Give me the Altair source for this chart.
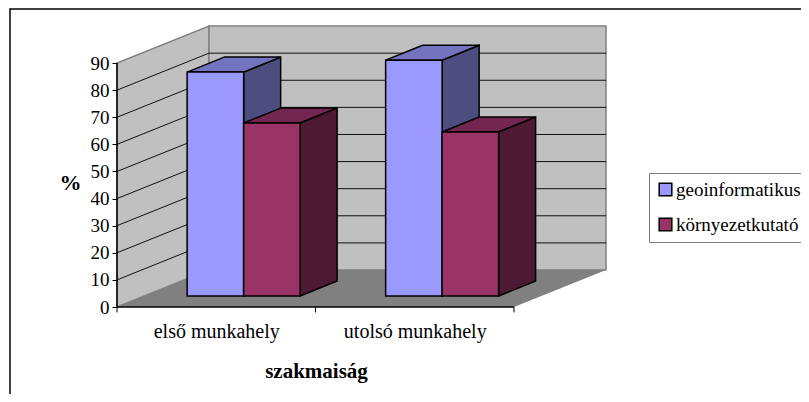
import altair as alt
import pandas as pd

categories = ["első munkahely", "utolsó munkahely"]
series = ["geoinformatikus", "környezetkutató"]
values = {"geoinformatikus": [82.6, 87.0], "környezetkutató": [63.8, 60.5]}
colors = ["#9999FF", "#993366"]
top_colors = {"geoinformatikus": "#7373BF", "környezetkutató": "#732650"}
side_colors = {"geoinformatikus": "#4D4D80", "környezetkutató": "#4D1933"}
y_ticks = list(range(0, 100, 10))

# oblique 3D layout, expressed in data units
DX, DY = 0.4635, 13.65          # full depth of the box
BDX, BDY = 0.1864, 5.53         # depth of a bar
FDX, FDY = 0.138, 4.06          # gap from the front plane to the bars
BW = 0.2846                     # bar width
N = len(categories)
XMAX, YMAX = 2.4585, 103.3

fronts, sides, tops = [], [], []
for c, cat in enumerate(categories):
    for s, name in enumerate(series):
        v = values[name][c]
        x0 = c + 0.5 - BW + s * BW + FDX
        x1 = x0 + BW
        y0 = FDY
        y1 = FDY + v
        pid = f"{c}-{s}"
        fronts.append(dict(series=name, x=x0, x2=x1, y=y0, y2=y1))
        for k in (0, 1):
            sides.append(dict(pid=pid, series=name, x=x1 + k * BDX, y=y0 + k * BDY, y2=y1 + k * BDY))
            tops.append(dict(pid=pid, series=name, y=y1 + k * BDY, x=x0 + k * BDX, x2=x1 + k * BDX))
fronts, sides, tops = map(pd.DataFrame, (fronts, sides, tops))

xs = alt.Scale(domain=[0, XMAX], nice=False, zero=False)
ys = alt.Scale(domain=[0, YMAX], nice=False, zero=False)
X = alt.X("x:Q", scale=xs)
Y = alt.Y("y:Q", scale=ys)

FONT = "Liberation Serif"

wall_left = alt.Chart(pd.DataFrame([
    dict(x=0, y=0, y2=90), dict(x=DX, y=DY, y2=90 + DY)])).mark_area(
    fill="#C0C0C0", stroke="#808080", strokeWidth=1.5, orient="vertical"
).encode(x=X, y=Y, y2="y2:Q")

wall_back = alt.Chart(pd.DataFrame([dict(x=DX, x2=DX + N, y=DY, y2=90 + DY)])).mark_rect(
    fill="#C0C0C0", stroke="#808080", strokeWidth=1.5
).encode(x=X, x2="x2:Q", y=Y, y2="y2:Q")

floor = alt.Chart(pd.DataFrame([
    dict(y=0, x=0, x2=N), dict(y=DY, x=DX, x2=DX + N)])).mark_area(
    fill="#808080", orient="horizontal"
).encode(y=Y, x=X, x2="x2:Q")

grid_rows = []
for v in y_ticks[1:-1]:
    grid_rows += [dict(g=v, x=0, y=v), dict(g=v, x=DX, y=v + DY), dict(g=v, x=DX + N, y=v + DY)]
grid = alt.Chart(pd.DataFrame(grid_rows)).mark_line(color="#111111", strokeWidth=1).encode(
    x=X, y=Y, detail="g:N", order="x:Q")

side_layers = [
    alt.Chart(sides[sides.series == name]).mark_area(
        fill=side_colors[name], stroke="black", strokeWidth=1.5, orient="vertical"
    ).encode(x=X, y=Y, y2="y2:Q", detail="pid:N")
    for name in series
]
top_layers = [
    alt.Chart(tops[tops.series == name]).mark_area(
        fill=top_colors[name], stroke="black", strokeWidth=1.5, orient="horizontal"
    ).encode(y=Y, x=X, x2="x2:Q", detail="pid:N")
    for name in series
]

front = alt.Chart(fronts).mark_rect(stroke="black", strokeWidth=1.5).encode(
    x=X, x2="x2:Q", y=Y, y2="y2:Q",
    fill=alt.Fill("series:N", scale=alt.Scale(domain=series, range=colors), sort=None,
                  legend=alt.Legend(
                      title=None, orient="none", legendX=532, legendY=146,
                      padding=7, strokeColor="#808080", fillColor="white",
                      symbolType="square", symbolSize=160, symbolStrokeColor="black",
                      symbolStrokeWidth=1.5, labelFont=FONT, labelFontSize=19,
                      labelColor="black", labelLimit=300, labelOffset=1, rowPadding=15)),
)

y_axis_line = alt.Chart(pd.DataFrame([dict(x=0, y=0, y2=90)])).mark_rule(
    color="black", strokeWidth=1.5).encode(x=X, y=Y, y2="y2:Q")
x_axis_line = alt.Chart(pd.DataFrame([dict(x=0, x2=N, y=0)])).mark_rule(
    color="black", strokeWidth=1.5).encode(x=X, x2="x2:Q", y=Y)
x_ticks = alt.Chart(pd.DataFrame([dict(x=i, y=0, y2=-2) for i in range(N + 1)])).mark_rule(
    color="black", strokeWidth=1).encode(x=X, y=Y, y2="y2:Q")

axes = alt.Chart(pd.DataFrame({"x": [c + 0.5 for c in range(N)], "y": [0.0] * N})).mark_point(opacity=0).encode(
    x=alt.X("x:Q", scale=xs, axis=alt.Axis(
        values=[c + 0.5 for c in range(N)], ticks=False, domain=False, grid=False, zindex=1,
        labelExpr="datum.value < 1 ? '%s' : '%s'" % tuple(categories),
        labelFont=FONT, labelFontSize=20, labelColor="black", labelPadding=14,
        labelFlush=False, labelOverlap=False,
        title="szakmaiság", titleFont=FONT, titleFontSize=21, titleFontWeight="bold",
        titleColor="black", titleX=199, titleY=53)),
    y=alt.Y("y:Q", scale=ys, axis=alt.Axis(
        values=y_ticks, domain=False, grid=False, tickColor="black", tickSize=5, tickWidth=1, zindex=1,
        labelFont=FONT, labelFontSize=19, labelColor="black", labelPadding=3, labelOverlap=False,
        tickCount=10, labelSeparation=0,
        title="%", titleFont=FONT, titleFontSize=22, titleFontWeight="bold", titleColor="black",
        titleAngle=0, titleX=-47, titleY=167)),
)

frame = alt.Chart(pd.DataFrame({"a": [0]})).mark_rect(fill="white", stroke="black", strokeWidth=1.5).encode(
    x=alt.value(-107), x2=alt.value(720), y=alt.value(-18), y2=alt.value(400))

chart = alt.layer(
    frame, axes, wall_left, wall_back, floor, grid, y_axis_line, x_axis_line, x_ticks,
    side_layers[0], top_layers[0], top_layers[1], side_layers[1], front,
).resolve_scale(x="shared", y="shared").properties(
    width=488, height=280,
    padding={"left": 109, "top": 19, "right": 196, "bottom": 87},
    autosize=alt.AutoSizeParams(type="none"),
    background="transparent",
).configure_view(stroke=None).configure_axis(labelOverlap=False)

chart.save("out.html", embed_options={"renderer": "svg", "actions": False})
